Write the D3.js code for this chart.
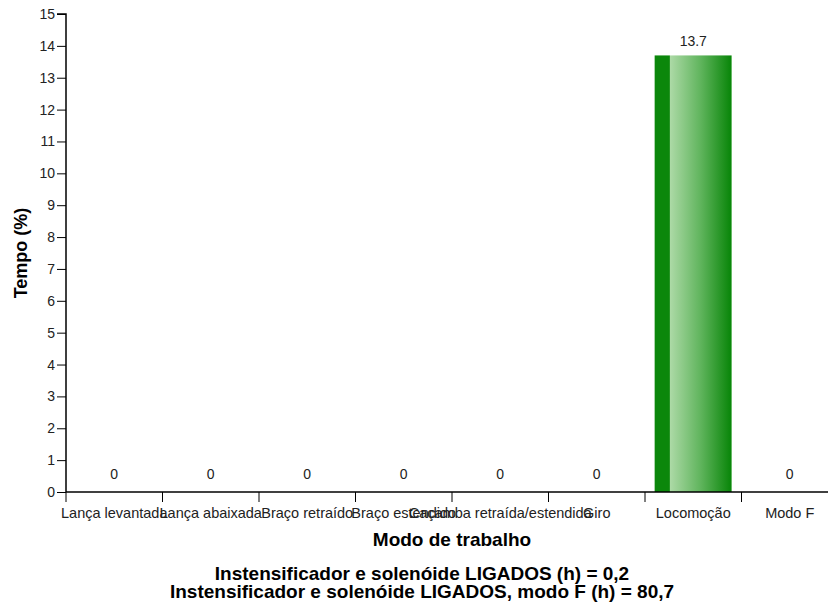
<!DOCTYPE html>
<html><head><meta charset="utf-8">
<script src="https://cdn.jsdelivr.net/npm/d3@7"></script>
<style>
body{margin:0;background:#fff;}
text{font-family:"Liberation Sans",Arial,sans-serif;}
</style></head>
<body>
<svg id="c" width="828" height="609"></svg>
<script>
const categories = ["Lança levantada","Lança abaixada","Braço retraído","Braço estendido","Caçamba retraída/estendida","Giro","Locomoção","Modo F"];
const values = [0,0,0,0,0,0,13.7,0];
const yTicks = [0,1,2,3,4,5,6,7,8,9,10,11,12,13,14,15];
const footerLines = ["Instensificador e solenóide LIGADOS (h) = 0,2","Instensificador e solenóide LIGADOS, modo F (h) = 80,7"];

const svg = d3.select("#c");
const mLeft = 66, mTop = 14, mBottom = 492, mRight = 838;
const x = d3.scaleBand().domain(categories).range([mLeft, mRight]).paddingInner(0.2).paddingOuter(0.1);
const y = d3.scaleLinear().domain([0,15]).range([mBottom, mTop]);

const defs = svg.append("defs");
const g = defs.append("linearGradient").attr("id","barg").attr("x1","0").attr("x2","1").attr("y1","0").attr("y2","0");
[[0,"#0b870b"],[0.19,"#0b870b"],[0.205,"#abd9a5"],[0.6,"#5fb45c"],[0.985,"#0a860a"],[1,"#6cbf6a"]].forEach(s=>g.append("stop").attr("offset",s[0]).attr("stop-color",s[1]));

// bars
svg.append("g").selectAll("rect").data(categories).join("rect")
  .attr("x", d=>x(d)).attr("width", x.bandwidth())
  .attr("y", (d,i)=>y(values[i])).attr("height",(d,i)=>mBottom - y(values[i]))
  .attr("fill","url(#barg)");

// value labels
svg.append("g").selectAll("text").data(categories).join("text")
  .attr("x", d=>x(d)+x.bandwidth()/2).attr("y",(d,i)=>y(values[i])-(values[i]===0?13:9))
  .attr("text-anchor","middle").attr("font-size",14).attr("fill","#222")
  .text((d,i)=>values[i]);

// y axis
const ya = svg.append("g").attr("transform",`translate(${mLeft},0)`)
  .call(d3.axisLeft(y).tickValues(yTicks).tickSize(9).tickPadding(2).tickFormat(d3.format("d")));
ya.selectAll("text").attr("font-size",14).attr("fill","#222").attr("font-family","Liberation Sans, Arial, sans-serif");
ya.select(".domain").attr("stroke-width",1.5).attr("d",`M-9,${mTop}H0V${mBottom}`);

// x axis: ticks at band boundaries
const step = x.step();
const xa = svg.append("g").attr("transform",`translate(0,${mBottom})`);
xa.append("line").attr("x1",mLeft).attr("x2",mRight).attr("y1",0).attr("y2",0).attr("stroke","#000").attr("stroke-width",1.5);
xa.selectAll("line.t").data(categories).join("line").attr("class","t")
  .attr("x1",d=>x(d)-step*0.1).attr("x2",d=>x(d)-step*0.1).attr("y1",0).attr("y2",10).attr("stroke","#000");
xa.selectAll("text").data(categories).join("text")
  .attr("x",d=>x(d)+x.bandwidth()/2).attr("y",26)
  .attr("text-anchor","middle").attr("font-size",14.5).attr("fill","#222").text(d=>d);

// axis titles
const cx = (mLeft+mRight)/2;
svg.append("text").attr("x",cx).attr("y",546).attr("text-anchor","middle").attr("font-size",19).attr("font-weight","bold").text("Modo de trabalho");
svg.append("text").attr("transform",`translate(27,${(mTop+mBottom)/2}) rotate(-90)`).attr("text-anchor","middle").attr("font-size",18).attr("font-weight","bold").text("Tempo (%)");
footerLines.forEach((t,i)=>svg.append("text").attr("x",422).attr("y",580+i*18).attr("text-anchor","middle").attr("font-size",19).attr("font-weight","bold").text(t));
</script>
</body></html>
